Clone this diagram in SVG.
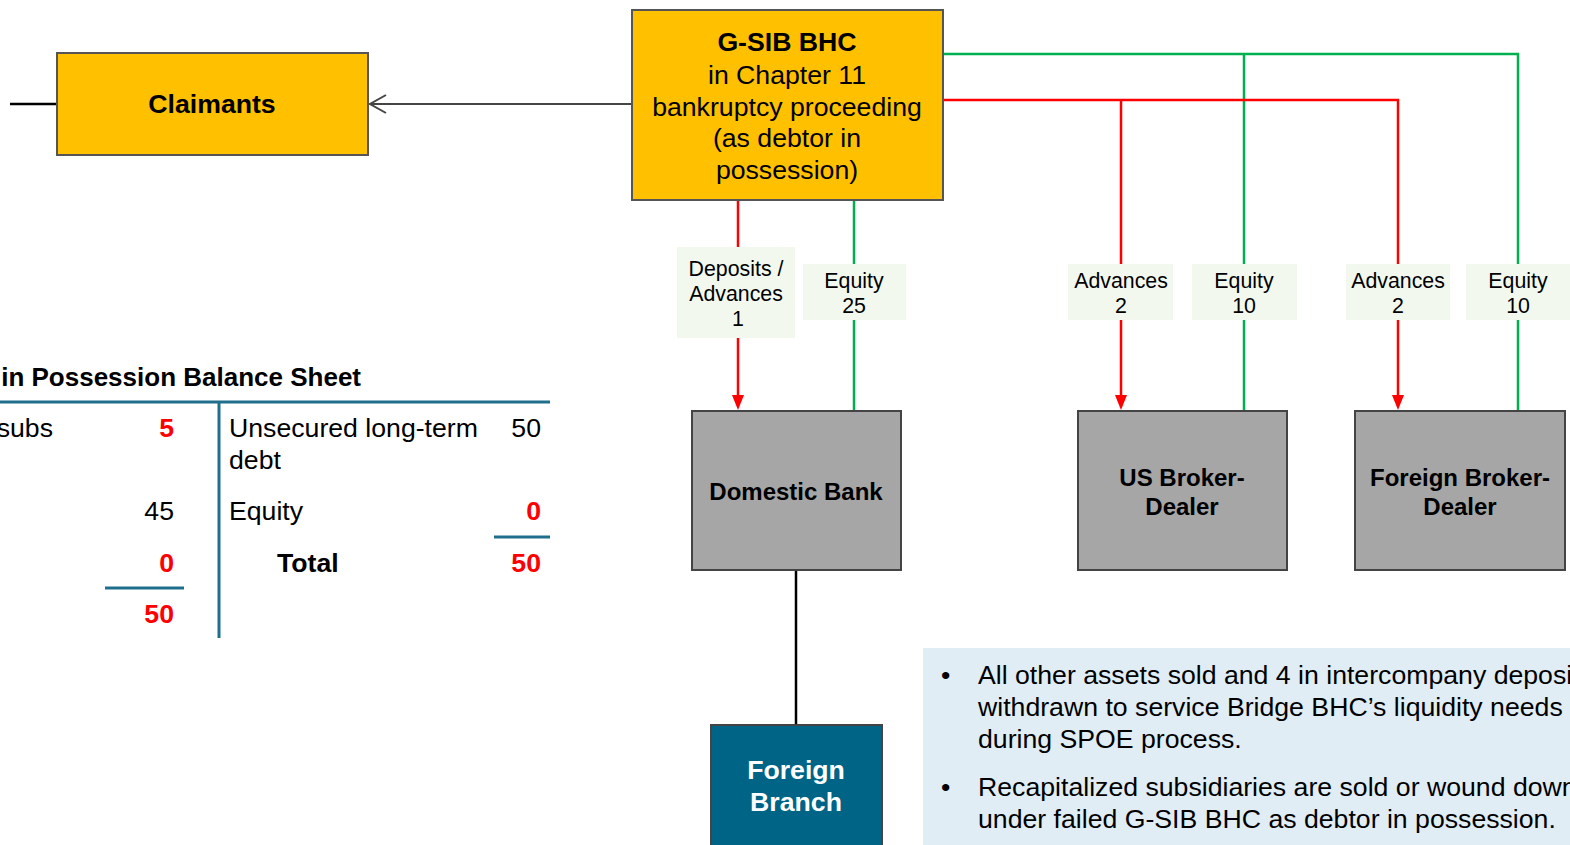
<svg xmlns="http://www.w3.org/2000/svg" width="1570" height="845" viewBox="0 0 1570 845">
<style>
text{font-family:"Liberation Sans",Arial,sans-serif;fill:#000}
.b{font-weight:bold}
.c{text-anchor:middle}
.e{text-anchor:end}
.r{fill:#FF0000;font-weight:bold}
.m{font-size:26.67px}
.s{font-size:21.33px}
.yel{fill:#FFC000;stroke:#555;stroke-width:2}
.gry{fill:#A6A6A6;stroke:#444;stroke-width:2}
.lbl{fill:#F3F8EF}
.red{stroke:#FF0000;stroke-width:2.5;fill:none}
.grn{stroke:#00B050;stroke-width:2.5;fill:none}
.bs{stroke:#1F6E8C;stroke-width:3}
</style>

<g id="connectors">
<line x1="10" y1="104" x2="57" y2="104" stroke="#000" stroke-width="2.5"/>
<line x1="632" y1="104" x2="370" y2="104" stroke="#444" stroke-width="2"/>
<path d="M386,95 L370,104 L386,113" fill="none" stroke="#444" stroke-width="2"/>
<path class="grn" d="M943,54 H1518 V411"/>
<line class="grn" x1="1244" y1="54" x2="1244" y2="411"/>
<path class="red" d="M943,100 H1398 V396"/>
<line class="red" x1="1121" y1="100" x2="1121" y2="396"/>
<line class="red" x1="738" y1="200" x2="738" y2="396"/>
<line class="grn" x1="854" y1="200" x2="854" y2="411"/>
<path d="M732,395 L744,395 L738,410 Z" fill="#FF0000"/>
<path d="M1115,395 L1127,395 L1121,410 Z" fill="#FF0000"/>
<path d="M1392,395 L1404,395 L1398,410 Z" fill="#FF0000"/>
<line x1="796" y1="570" x2="796" y2="725" stroke="#000" stroke-width="2.5"/>
</g>

<g id="label-deposits">
<rect class="lbl" x="677" y="247" width="118" height="91"/>
<text class="c s" x="736" y="276">Deposits /</text>
<text class="c s" x="736" y="301">Advances</text>
<text class="c s" x="738" y="326">1</text>
</g>
<g id="label-equity25">
<rect class="lbl" x="803" y="264" width="103" height="56"/>
<text class="c s" x="854" y="288">Equity</text>
<text class="c s" x="854" y="313">25</text>
</g>
<g id="label-adv-us">
<rect class="lbl" x="1068" y="264" width="105" height="56"/>
<text class="c s" x="1121" y="288">Advances</text>
<text class="c s" x="1121" y="313">2</text>
</g>
<g id="label-eq-us">
<rect class="lbl" x="1192" y="264" width="105" height="56"/>
<text class="c s" x="1244" y="288">Equity</text>
<text class="c s" x="1244" y="313">10</text>
</g>
<g id="label-adv-for">
<rect class="lbl" x="1346" y="264" width="104" height="56"/>
<text class="c s" x="1398" y="288">Advances</text>
<text class="c s" x="1398" y="313">2</text>
</g>
<g id="label-eq-for">
<rect class="lbl" x="1466" y="264" width="104" height="56"/>
<text class="c s" x="1518" y="288">Equity</text>
<text class="c s" x="1518" y="313">10</text>
</g>

<g id="claimants">
<rect class="yel" x="57" y="53" width="311" height="102"/>
<text class="b c m" x="212" y="113">Claimants</text>
</g>

<g id="gsib">
<rect class="yel" x="632" y="10" width="311" height="190"/>
<text class="b c m" x="787" y="51">G-SIB BHC</text>
<text class="c m" x="787" y="84">in Chapter 11</text>
<text class="c m" x="787" y="116">bankruptcy proceeding</text>
<text class="c m" x="787" y="147">(as debtor in</text>
<text class="c m" x="787" y="179">possession)</text>
</g>

<g id="domestic-bank">
<rect class="gry" x="692" y="411" width="209" height="159"/>
<text class="b c" x="796" y="500" font-size="24">Domestic Bank</text>
</g>
<g id="us-bd">
<rect class="gry" x="1078" y="411" width="209" height="159"/>
<text class="b c" x="1182" y="486" font-size="24">US Broker-</text>
<text class="b c" x="1182" y="515" font-size="24">Dealer</text>
</g>
<g id="foreign-bd">
<rect class="gry" x="1355" y="411" width="210" height="159"/>
<text class="b c" x="1460" y="486" font-size="24">Foreign Broker-</text>
<text class="b c" x="1460" y="515" font-size="24">Dealer</text>
</g>
<g id="foreign-branch">
<rect x="711" y="725" width="171" height="125" fill="#006487" stroke="#444" stroke-width="2"/>
<text class="b c m" x="796" y="779" style="fill:#fff">Foreign</text>
<text class="b c m" x="796" y="811" style="fill:#fff">Branch</text>
</g>

<g id="notes">
<rect x="923" y="648" width="660" height="200" fill="#E1EDF5"/>
<text class="m" x="941" y="684">•</text>
<text class="m" x="978" y="684">All other assets sold and 4 in intercompany deposits</text>
<text class="m" x="978" y="716">withdrawn to service Bridge BHC’s liquidity needs</text>
<text class="m" x="978" y="748">during SPOE process.</text>
<text class="m" x="941" y="796">•</text>
<text class="m" x="978" y="796">Recapitalized subsidiaries are sold or wound down</text>
<text class="m" x="978" y="828">under failed G-SIB BHC as debtor in possession.</text>
</g>

<g id="balance-sheet">
<text class="b e" x="361" y="386" font-size="26">in Possession Balance Sheet</text>
<line class="bs" x1="0" y1="402" x2="550" y2="402"/>
<line class="bs" x1="219" y1="402" x2="219" y2="638"/>
<text class="e m" x="53" y="437">subs</text>
<text class="r e m" x="174" y="437">5</text>
<text class="e m" x="174" y="520">45</text>
<text class="r e m" x="174" y="572">0</text>
<line class="bs" x1="105" y1="588" x2="184" y2="588"/>
<text class="r e m" x="174" y="623">50</text>
<text class="m" x="229" y="437">Unsecured long-term</text>
<text class="m" x="229" y="469">debt</text>
<text class="e m" x="541" y="437">50</text>
<text class="m" x="229" y="520">Equity</text>
<text class="r e m" x="541" y="520">0</text>
<line class="bs" x1="494" y1="537" x2="550" y2="537"/>
<text class="b m" x="277" y="572">Total</text>
<text class="r e m" x="541" y="572">50</text>
</g>
</svg>
